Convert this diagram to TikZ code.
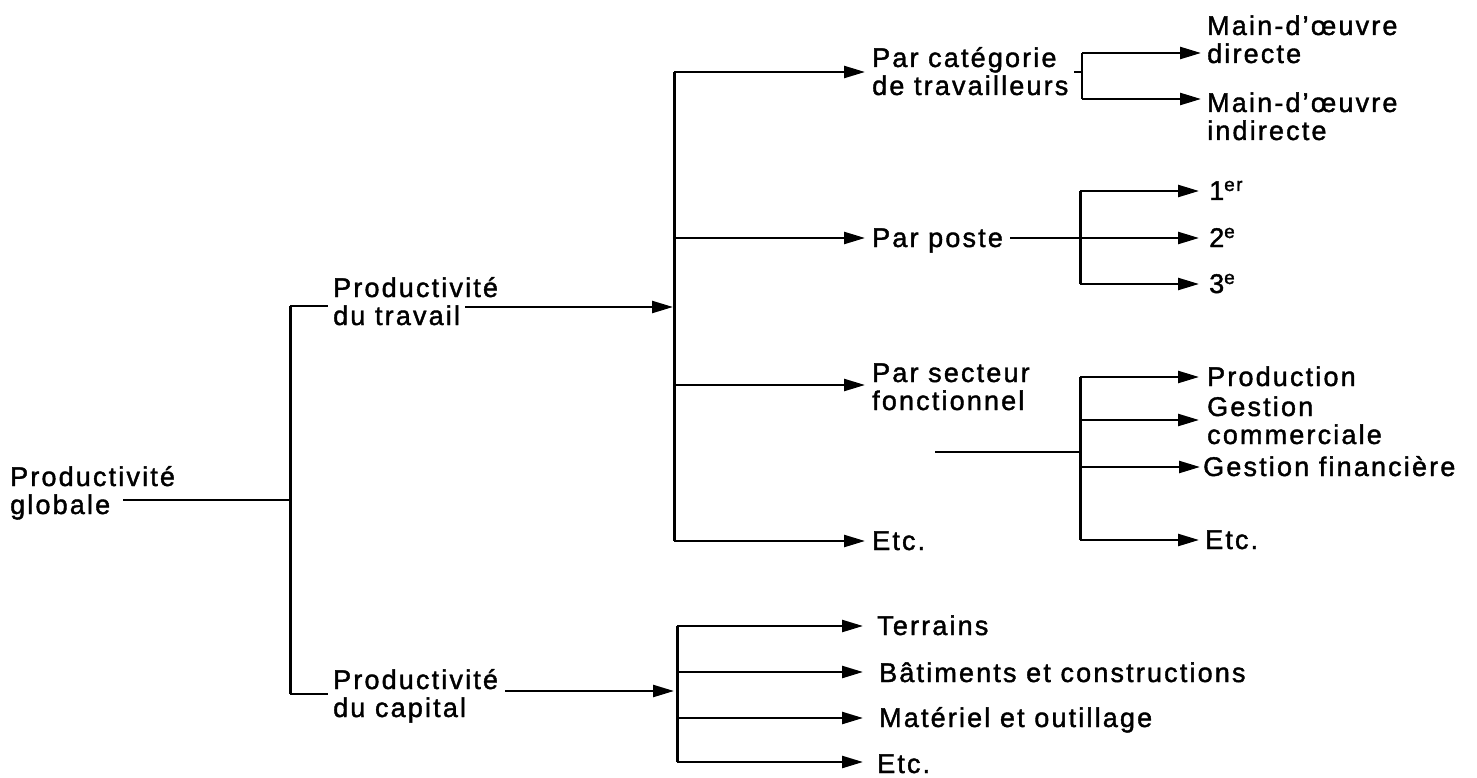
\documentclass[tikz,border=0pt]{standalone}
\usepackage{fontspec}
\setmainfont{Liberation Sans}[LetterSpace=8, FakeBold=1.5]
\usetikzlibrary{arrows.meta}
\begin{document}
\begin{tikzpicture}[x=1pt,y=-1pt,
  lbl/.style={anchor=base west, inner xsep=6pt, inner ysep=0pt, align=left,
    font=\fontsize{27}{28}\selectfont},
  ln/.style={line width=2.4pt},
  bar/.style={line width=3pt},
  arr/.style={line width=2.4pt, -{Triangle[length=21pt,width=12pt]}},
]
\useasboundingbox (0,0) rectangle (1477,778);

% ---- labels (positioned by the baseline of their last line) ----
\node[lbl, inner xsep=5pt] (glob) at (5,514) {Productivité\\globale};
\node[lbl, inner xsep=5pt] (trav) at (328,325) {Productivité\\du travail};
\node[lbl, inner xsep=5pt] (cap)  at (328,717) {Productivité\\du capital};

\node[lbl, inner xsep=7pt] (cat)   at (865,95)  {Par catégorie\\de travailleurs};
\node[lbl, inner xsep=7pt] (poste) at (865,247) {Par poste};
\node[lbl, inner xsep=7pt] (sect)  at (865,410) {Par secteur\\fonctionnel};
\node[lbl, inner xsep=7pt] (etcA)  at (865,550) {Etc.};

\node[lbl] (mod) at (1201,63)  {Main-d’œuvre\\directe};
\node[lbl] (moi) at (1201,140) {Main-d’œuvre\\indirecte};

\node[lbl, inner xsep=10pt] (p1) at (1199,200) {1\textsuperscript{er}};
\node[lbl, inner xsep=10pt] (p2) at (1199,247) {2\textsuperscript{e}};
\node[lbl, inner xsep=10pt] (p3) at (1199,293) {3\textsuperscript{e}};

\node[lbl, inner xsep=8pt] (prod) at (1199,386) {Production};
\node[lbl, inner xsep=8pt] (gcom) at (1199,444) {Gestion\\commerciale};
\node[lbl, inner xsep=3pt] (gfin) at (1200,476) {Gestion financière};
\node[lbl, inner xsep=6pt] (etcB) at (1199,549) {Etc.};

\node[lbl, inner xsep=14pt] (terr) at (863,635) {Terrains};
\node[lbl, inner xsep=16pt] (bat)  at (863,682) {Bâtiments et constructions};
\node[lbl, inner xsep=16pt] (mat)  at (863,727) {Matériel et outillage};
\node[lbl, inner xsep=14pt] (etcC) at (863,773) {Etc.};

% ---- first split ----
\coordinate (g0)  at (123,500);
\coordinate (b1m) at (290,500);
\coordinate (b1t) at (290,306);
\coordinate (b1b) at (290,694);
\draw[ln] (g0) -- (b1m);
\draw[bar] (b1t) -- (b1b);
\draw[ln] (b1t) -- (b1t -| trav.west);
\draw[ln] (b1b) -- (b1b -| cap.west);

% ---- labour productivity ----
\coordinate (t0)  at (465,307);
\coordinate (t1)  at (673,307);
\coordinate (b2a) at (674,72);
\coordinate (b2b) at (674,238);
\coordinate (b2c) at (674,385);
\coordinate (b2d) at (674,541);
\draw[arr] (t0) -- (t1);
\draw[bar] (b2a) -- (b2d);
\draw[arr] (b2a) -- (b2a -| cat.west);
\draw[arr] (b2b) -- (b2b -| poste.west);
\draw[arr] (b2c) -- (b2c -| sect.west);
\draw[arr] (b2d) -- (b2d -| etcA.west);

% worker categories: small bracket
\coordinate (k0) at (1074,72);
\coordinate (km) at (1082,72);
\coordinate (k1) at (1082,53);
\coordinate (k2) at (1082,99);
\draw[ln] (k1) -- (k2);
\draw[ln] (k0) -- (km);
\draw[arr] (k1) -- (k1 -| mod.west);
\draw[arr] (k2) -- (k2 -| moi.west);

% shifts
\coordinate (q1) at (1080,191);
\coordinate (q2) at (1080,238);
\coordinate (q3) at (1080,284);
\draw[ln] (q2 -| poste.east) -- (q2);
\draw[bar] (q1) -- (q3);
\draw[arr] (q1) -- (q1 -| p1.west);
\draw[arr] (q2) -- (q2 -| p2.west);
\draw[arr] (q3) -- (q3 -| p3.west);

% functional sectors
\coordinate (s0) at (935,452);
\coordinate (s1) at (1080,452);
\coordinate (sa) at (1080,377);
\coordinate (sb) at (1080,420);
\coordinate (sc) at (1080,467);
\coordinate (sd) at (1080,540);
\draw[ln] (s0) -- (s1);
\draw[bar] (sa) -- (sd);
\draw[arr] (sa) -- (sa -| prod.west);
\draw[arr] (sb) -- (sb -| gcom.west);
\draw[arr] (sc) -- (sc -| gfin.west);
\draw[arr] (sd) -- (sd -| etcB.west);

% ---- capital productivity ----
\coordinate (c0) at (505,691);
\coordinate (c1) at (674,691);
\coordinate (ca) at (677,626);
\coordinate (cb) at (677,672);
\coordinate (cc) at (677,718);
\coordinate (cd) at (677,762);
\draw[arr] (c0) -- (c1);
\draw[bar] (ca) -- (cd);
\draw[arr] (ca) -- (ca -| terr.west);
\draw[arr] (cb) -- (cb -| bat.west);
\draw[arr] (cc) -- (cc -| mat.west);
\draw[arr] (cd) -- (cd -| etcC.west);
\end{tikzpicture}
\end{document}
